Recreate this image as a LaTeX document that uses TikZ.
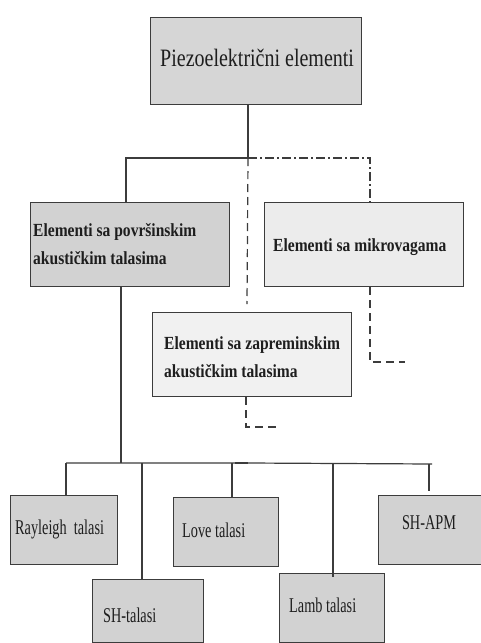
\documentclass[tikz,border=0pt]{standalone}
\usepackage{fontspec}
\setmainfont{Liberation Serif}
\newfontfamily\topfont[FakeStretch=0.8]{Liberation Serif}
\newfontfamily\midfont[FakeStretch=0.84]{Liberation Serif}
\newfontfamily\lowfont[FakeStretch=0.68]{Liberation Serif}
\definecolor{boxline}{RGB}{60,60,60}
\definecolor{ink}{RGB}{30,30,30}
\definecolor{grayA}{RGB}{214,214,214}
\definecolor{grayB}{RGB}{210,210,210}
\definecolor{grayC}{RGB}{236,236,236}
\definecolor{grayD}{RGB}{241,241,241}
\begin{document}
\begin{tikzpicture}[x=1pt,y=-1pt,
  box/.style={draw=boxline, line width=1.3pt, inner sep=0pt, anchor=north west},
  lbl/.style={inner sep=0pt, text=ink, align=left},
  toplbl/.style={lbl, font=\fontsize{25}{28}\topfont},
  midlbl/.style={lbl, font=\fontsize{18.5}{28}\midfont\bfseries},
  lowlbl/.style={lbl, font=\fontsize{21}{24}\lowfont},
  conn/.style={draw=boxline, line width=1.2pt},
  dashline/.style={conn, dash pattern=on 8pt off 5pt},
  dashdotline/.style={conn, dash pattern=on 9pt off 3pt on 2pt off 3pt}]
\useasboundingbox (0,0) rectangle (481,643);
\fill[white] (0,0) rectangle (481,643);
% boxes
\node[box, fill=grayA, minimum width=211, minimum height=87] (top) at (150,17) {};
\node[box, fill=grayB, minimum width=199, minimum height=84] (sur) at (30,202) {};
\node[box, fill=grayC, minimum width=199, minimum height=84] (mik) at (264,202) {};
\node[box, fill=grayD, minimum width=199, minimum height=84] (zap) at (152,312) {};
\node[box, fill=grayB, minimum width=107, minimum height=69] (ray) at (10,495) {};
\node[box, fill=grayB, minimum width=111, minimum height=63] (sh) at (92,579) {};
\node[box, fill=grayB, minimum width=105, minimum height=69] (love) at (173,497) {};
\node[box, fill=grayB, minimum width=105, minimum height=69] (lamb) at (279,573) {};
\node[box, fill=grayB, minimum width=103, minimum height=69] (apm) at (378,495) {};
% labels
\node[toplbl, anchor=west] (topT) at (160,58) {Piezoelektrični elementi};
\node[midlbl, anchor=west] (surT) at (33,244) {Elementi sa površinskim\\akustičkim talasima};
\node[midlbl, anchor=west] (mikT) at (273,247) {Elementi sa mikrovagama};
\node[midlbl, anchor=west] (zapT) at (164,357) {Elementi sa zapreminskim\\akustičkim talasima};
\node[lowlbl, anchor=west] (rayT) at (15,529) {Rayleigh\ \ talasi};
\node[lowlbl, anchor=west] (shT) at (103,615) {SH-talasi};
\node[lowlbl, anchor=west] (loveT) at (182,530) {Love talasi};
\node[lowlbl, anchor=west] (lambT) at (289,605) {Lamb talasi};
\node[lowlbl] (apmT) at (429,523) {SH-APM};
% junction coordinates
\coordinate (j1) at (248,158);
\coordinate (jL) at (126,158);
\coordinate (jR) at (370,158);
\coordinate (zd) at (247,304);
\coordinate (m1) at (370,362);
\coordinate (m2) at (405,362);
\coordinate (z1) at (246,427);
\coordinate (z2) at (276,427);
\coordinate (s1) at (121,463);
\coordinate (busL) at (66,463);
\coordinate (busM) at (248,463);
\coordinate (busK) at (235,463);
\coordinate (busR) at (432,464);
\coordinate (dSH) at (142,463);
\coordinate (dLove) at (232,463);
\coordinate (dLamb) at (333,464);
\coordinate (dApm) at (429,464);
% connectors
\draw[conn] (top.south -| j1) -- (j1) -- (jL) -- (jL |- sur.north);
\draw[dashdotline] (j1) -- (jR) -- (jR |- mik.north);
\draw[dashline] (j1) -- (zd);
\draw[dashline] (jR |- mik.south) -- (m1) -- (m2);
\draw[dashline] (z1 |- zap.south) -- (z1) -- (z2);
\draw[conn] (s1 |- sur.south) -- (s1);
\draw[conn] (busL) -- (busM) -- (busR);
\draw[conn, line width=2.6pt] (busK) -- (busM);
\draw[conn] (busL) -- (busL |- ray.north);
\draw[conn] (dSH) -- (dSH |- sh.north);
\draw[conn] (dLove) -- (dLove |- love.north);
\draw[conn] (dLamb) -- ([yshift=-4pt]dLamb |- lamb.north);
\draw[conn] (dApm) -- ([yshift=4pt]dApm |- apm.north);
\end{tikzpicture}
\end{document}
